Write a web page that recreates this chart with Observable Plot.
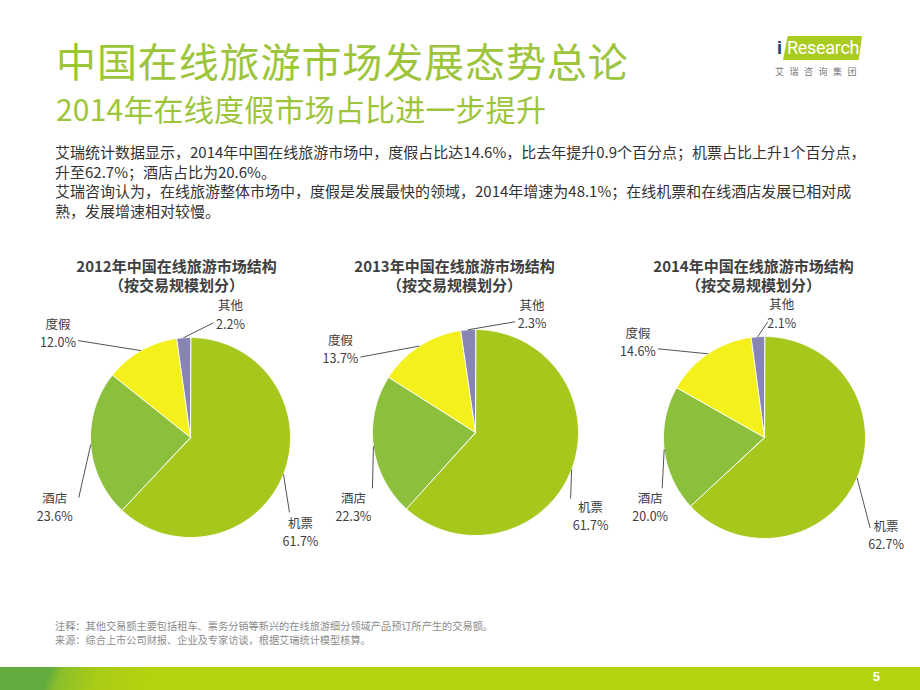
<!DOCTYPE html>
<html>
<head>
<meta charset="utf-8">
<script src="https://cdn.jsdelivr.net/npm/d3@7"></script>
<script src="https://cdn.jsdelivr.net/npm/@observablehq/plot@0.6"></script>
<style>
  html, body { margin: 0; padding: 0; background: #fff; }
  #slide { position: relative; width: 920px; height: 690px; overflow: hidden; background: #fff;
           font-family: "Noto Sans CJK SC", "Noto Sans", sans-serif; }
  #chart { position: absolute; left: 0; top: 0; }
  .abs { position: absolute; white-space: nowrap; }
  #title { left: 56px; top: 36px; font-size: 40px; line-height: 48px; color: #9dc53b; letter-spacing: 0.9px; }
  #subtitle { left: 56px; top: 91px; font-size: 30px; line-height: 34px; color: #9dc53b; letter-spacing: 0.2px; }
  #body { left: 55px; top: 142px; font-size: 15px; line-height: 19.5px; color: #333; }
  #notes { left: 55px; top: 619px; font-size: 10.2px; line-height: 14px; color: #8c8c8c; }
  #band { left: 0; top: 667px; width: 920px; height: 23px;
          background: linear-gradient(110deg, #62ad3e 0px, #62ad3e 48px, #8cbf2a 60px, #a9cc16 95px, #b5d20e 140px, #b5d20e 100%); }
  #pagenum { right: 40px; top: 669px; font-size: 13px; font-weight: bold; color: #fff; font-family: "Liberation Sans", sans-serif; }
  #logo-box { left: 783px; top: 36px; width: 79px; height: 24px; background: #a9cc1e;
              clip-path: polygon(6% 0, 100% 0, 96% 100%, 0 100%); }
  #logo-text { left: 787px; top: 36px; font-size: 18px; line-height: 24px; color: #fff; font-family: "Liberation Sans Narrow", "Roboto", sans-serif; letter-spacing: -0.3px; }
  #logo-i { left: 777px; top: 36px; font-size: 18px; line-height: 24px; color: #1f3c78; font-family: "Liberation Sans", sans-serif; font-weight: bold; }
  #logo-cn { left: 775px; top: 66px; font-size: 9px; line-height: 11px; color: #777; letter-spacing: 5.5px; }
</style>
</head>
<body>
<div id="slide">
  <div id="chart"></div>
  <div class="abs" id="title">中国在线旅游市场发展态势总论</div>
  <div class="abs" id="subtitle">2014年在线度假市场占比进一步提升</div>
  <div class="abs" id="body">艾瑞统计数据显示，2014年中国在线旅游市场中，度假占比达14.6%，比去年提升0.9个百分点；机票占比上升1个百分点，<br>升至62.7%；酒店占比为20.6%。<br>艾瑞咨询认为，在线旅游整体市场中，度假是发展最快的领域，2014年增速为48.1%；在线机票和在线酒店发展已相对成<br>熟，发展增速相对较慢。</div>
  <div class="abs" id="notes">注释：其他交易额主要包括租车、票务分销等新兴的在线旅游细分领域产品预订所产生的交易额。<br>来源：综合上市公司财报、企业及专家访谈，根据艾瑞统计模型核算。</div>
  <div class="abs" id="band"></div>
  <div class="abs" id="pagenum">5</div>
  <div class="abs" id="logo-box"></div>
  <div class="abs" id="logo-i">i</div>
  <div class="abs" id="logo-text">Research</div>
  <div class="abs" id="logo-cn">艾瑞咨询集团</div>
</div>
<script>
// ---- data ----
const years = ["2012", "2013", "2014"];
const categories = ["机票", "酒店", "度假", "其他"];
const share2012 = [61.7, 23.6, 12.0, 2.2];
const share2013 = [61.7, 22.3, 13.7, 2.3];
const share2014 = [62.7, 20.0, 14.6, 2.1];
const pieTitles = ["2012年中国在线旅游市场结构", "2013年中国在线旅游市场结构", "2014年中国在线旅游市场结构"];
const pieSubtitle = "（按交易规模划分）";

// ---- layout / style ----
const sliceColors = ["#a6c81c", "#8cbf3c", "#f4f01c", "#8785b5"];
const pieLayout = [
  {cx: 190, cy: 437, r: 100, tx: 176},
  {cx: 475, cy: 432, r: 103, tx: 454},
  {cx: 764, cy: 437, r: 101, tx: 753}
];
// per pie, per category: leader end offset from slice edge [dx, dy], label block offset from leader end [lx, ly]
const labelLayout = [
  [[6, 38, 11, 19], [-12, 53, -24, 9], [-63, -10, -20, -8], [30, -15, 17, -9]],
  [[-1, 29, 20, 17], [-1, 42, -19, 18], [-59, 11, -20, -9], [47, -8, 17, -9]],
  [[13, 50, 16, 6], [-2, 39, -12, 18], [-50, -5, -20, -8], [10, -15, 14, -9]]
];

const allShares = [share2012, share2013, share2014];
const pie = d3.pie().sort(null).value(d => d);

const slicePts = [];
const leaders = [];
const labels = [];
const titles = [];

allShares.forEach((vals, i) => {
  const L = pieLayout[i];
  const arcs = pie(vals);
  arcs.forEach((a, j) => {
    const key = years[i] + categories[j];
    const n = Math.max(2, Math.ceil((a.endAngle - a.startAngle) / 0.01));
    slicePts.push({key, x: L.cx, y: L.cy, color: sliceColors[j]});
    for (let k = 0; k <= n; k++) {
      const t = a.startAngle + (a.endAngle - a.startAngle) * k / n;
      slicePts.push({key, x: L.cx + L.r * Math.sin(t), y: L.cy - L.r * Math.cos(t), color: sliceColors[j]});
    }
    const mid = (a.startAngle + a.endAngle) / 2;
    const ex = L.cx + L.r * Math.sin(mid), ey = L.cy - L.r * Math.cos(mid);
    const [dx, dy, lx, ly] = labelLayout[i][j];
    leaders.push({x1: ex, y1: ey, x2: ex + dx, y2: ey + dy});
    labels.push({x: ex + dx + lx, y: ey + dy + ly, text: categories[j] + "\n" + vals[j].toFixed(1) + "%"});
  });
  titles.push({x: L.tx, y: 274.5, text: pieTitles[i] + "\n" + pieSubtitle});
});

const font = "Noto Sans CJK SC";
const chart = Plot.plot({
  width: 920,
  height: 690,
  margin: 0,
  style: {background: "transparent", fontFamily: font},
  x: {domain: [0, 920], range: [0, 920], axis: null},
  y: {domain: [0, 690], range: [0, 690], axis: null},
  color: {type: "identity"},
  marks: [
    Plot.line(slicePts, {x: "x", y: "y", z: "key", fill: "color", stroke: "#ffffff", strokeWidth: 1, curve: "linear-closed"}),
    Plot.link(leaders, {x1: "x1", y1: "y1", x2: "x2", y2: "y2", stroke: "#404040", strokeWidth: 0.9}),
    Plot.text(labels, {x: "x", y: "y", text: "text", fontSize: 12.5, lineHeight: 1.45, fill: "#404040", fontFamily: font}),
    Plot.text(titles, {x: "x", y: "y", text: "text", fontSize: 15, lineHeight: 1.3, fontWeight: "bold", fill: "#404040", fontFamily: font})
  ]
});
document.getElementById("chart").appendChild(chart);
</script>
</body>
</html>
